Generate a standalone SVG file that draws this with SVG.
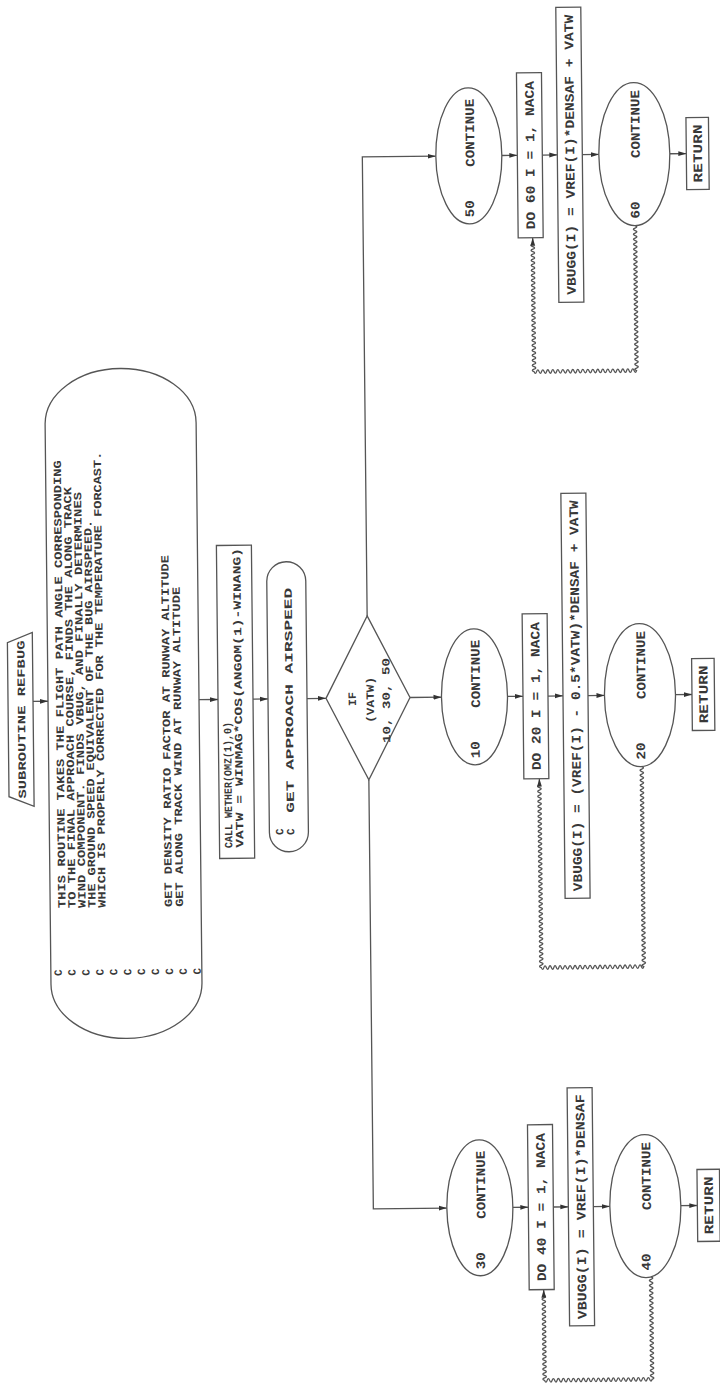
<svg xmlns="http://www.w3.org/2000/svg" width="720" height="1397" viewBox="0 0 720 1397">
<style>
.s{fill:none;stroke:#555;stroke-width:1.3}
.n{fill:#fff;stroke:#555;stroke-width:1.3}
.t{font-family:"Liberation Mono",monospace;font-size:11px;font-weight:bold;fill:#383838}
.c{font-family:"Liberation Mono",monospace;font-size:13px;font-weight:bold;fill:#383838}
.m{text-anchor:middle}
</style>
<defs>
<marker id="ah" viewBox="0 0 8 6" refX="8" refY="3" markerWidth="8" markerHeight="6" markerUnits="userSpaceOnUse" orient="auto"><path d="M0,0.6 L8,3 L0,5.4 Z" fill="#333"/></marker>
</defs>
<rect width="720" height="1397" fill="#fff"/>
<g transform="rotate(-0.6 360 698)">
<g id="connectors" class="s">
<path d="M33,698 H48" marker-end="url(#ah)"/>
<path d="M199,698 H218" marker-end="url(#ah)"/>
<path d="M253,698 H268" marker-end="url(#ah)"/>
<path d="M307,698 H326" marker-end="url(#ah)"/>
<path d="M410,698 H441.5" marker-end="url(#ah)"/>
<path d="M368,616 V157 H441.5" marker-end="url(#ah)"/>
<path d="M368,780 V1209 H441.5" marker-end="url(#ah)"/>
<path d="M507.5,157 H523" marker-end="url(#ah)"/>
<path d="M548,157 H563" marker-end="url(#ah)"/>
<path d="M588,157 H604.5" marker-end="url(#ah)"/>
<path d="M675.5,157 H692" marker-end="url(#ah)"/>
<path d="M507.5,698 H523" marker-end="url(#ah)"/>
<path d="M548,698 H563" marker-end="url(#ah)"/>
<path d="M588,698 H604.5" marker-end="url(#ah)"/>
<path d="M675.5,698 H692" marker-end="url(#ah)"/>
<path d="M507.5,1209 H523" marker-end="url(#ah)"/>
<path d="M548,1209 H563" marker-end="url(#ah)"/>
<path d="M588,1209 H604.5" marker-end="url(#ah)"/>
<path d="M675.5,1209 H692" marker-end="url(#ah)"/>
<path id="loop60" marker-end="url(#ah)" d="M640,228.5 q3.5,1.25 0,2.5 t0,2.5t0,2.5t0,2.5t0,2.5t0,2.5t0,2.5t0,2.5t0,2.5t0,2.5t0,2.5 t0,2.5t0,2.5t0,2.5t0,2.5t0,2.5t0,2.5t0,2.5t0,2.5t0,2.5t0,2.5 t0,2.5t0,2.5t0,2.5t0,2.5t0,2.5t0,2.5t0,2.5t0,2.5t0,2.5t0,2.5 t0,2.5t0,2.5t0,2.5t0,2.5t0,2.5t0,2.5t0,2.5t0,2.5t0,2.5t0,2.5 t0,2.5t0,2.5t0,2.5t0,2.5t0,2.5t0,2.5t0,2.5t0,2.5t0,2.5t0,2.5 t0,2.5t0,2.5t0,2.5t0,2.5t0,2.5t0,2.5t0,2.5 q-1.25,3.5 -2.5,0 t-2.5,0t-2.5,0t-2.5,0t-2.5,0t-2.5,0t-2.5,0t-2.5,0t-2.5,0t-2.5,0t-2.5,0 t-2.5,0t-2.5,0t-2.5,0t-2.5,0t-2.5,0t-2.5,0t-2.5,0t-2.5,0t-2.5,0t-2.5,0 t-2.5,0t-2.5,0t-2.5,0t-2.5,0t-2.5,0t-2.5,0t-2.5,0t-2.5,0t-2.5,0t-2.5,0 t-2.5,0t-2.5,0t-2.5,0t-2.5,0t-2.5,0t-2.5,0t-2.5,0t-2.5,0t-2.5,0t-2.5,0 q-3.5,-1.25 0,-2.5 t0,-2.5t0,-2.5t0,-2.5t0,-2.5t0,-2.5t0,-2.5t0,-2.5t0,-2.5t0,-2.5t0,-2.5 t0,-2.5t0,-2.5t0,-2.5t0,-2.5t0,-2.5t0,-2.5t0,-2.5t0,-2.5t0,-2.5t0,-2.5 t0,-2.5t0,-2.5t0,-2.5t0,-2.5t0,-2.5t0,-2.5t0,-2.5t0,-2.5t0,-2.5t0,-2.5 t0,-2.5t0,-2.5t0,-2.5t0,-2.5t0,-2.5t0,-2.5t0,-2.5t0,-2.5t0,-2.5t0,-2.5 t0,-2.5t0,-2.5t0,-2.5t0,-2.5t0,-2.5t0,-2.5t0,-2.5t0,-2.5t0,-2.5t0,-2.5 L537.5,239.5"/>
<path id="loop20" marker-end="url(#ah)" d="M641,769.5 q3.5,1.25 0,2.5 t0,2.5t0,2.5t0,2.5t0,2.5t0,2.5t0,2.5t0,2.5t0,2.5t0,2.5t0,2.5 t0,2.5t0,2.5t0,2.5t0,2.5t0,2.5t0,2.5t0,2.5t0,2.5t0,2.5t0,2.5 t0,2.5t0,2.5t0,2.5t0,2.5t0,2.5t0,2.5t0,2.5t0,2.5t0,2.5t0,2.5 t0,2.5t0,2.5t0,2.5t0,2.5t0,2.5t0,2.5t0,2.5t0,2.5t0,2.5t0,2.5 t0,2.5t0,2.5t0,2.5t0,2.5t0,2.5t0,2.5t0,2.5t0,2.5t0,2.5t0,2.5 t0,2.5t0,2.5t0,2.5t0,2.5t0,2.5t0,2.5t0,2.5t0,2.5t0,2.5t0,2.5 t0,2.5t0,2.5t0,2.5t0,2.5t0,2.5t0,2.5t0,2.5t0,2.5t0,2.5t0,2.5 t0,2.5t0,2.5t0,2.5t0,2.5t0,2.5t0,2.5t0,2.5t0,2.5t0,2.5 q-1.25,3.5 -2.5,0 t-2.5,0t-2.5,0t-2.5,0t-2.5,0t-2.5,0t-2.5,0t-2.5,0t-2.5,0t-2.5,0t-2.5,0 t-2.5,0t-2.5,0t-2.5,0t-2.5,0t-2.5,0t-2.5,0t-2.5,0t-2.5,0t-2.5,0t-2.5,0 t-2.5,0t-2.5,0t-2.5,0t-2.5,0t-2.5,0t-2.5,0t-2.5,0t-2.5,0t-2.5,0t-2.5,0 t-2.5,0t-2.5,0t-2.5,0t-2.5,0t-2.5,0t-2.5,0t-2.5,0t-2.5,0t-2.5,0t-2.5,0 q-3.5,-1.25 0,-2.5 t0,-2.5t0,-2.5t0,-2.5t0,-2.5t0,-2.5t0,-2.5t0,-2.5t0,-2.5t0,-2.5t0,-2.5 t0,-2.5t0,-2.5t0,-2.5t0,-2.5t0,-2.5t0,-2.5t0,-2.5t0,-2.5t0,-2.5t0,-2.5 t0,-2.5t0,-2.5t0,-2.5t0,-2.5t0,-2.5t0,-2.5t0,-2.5t0,-2.5t0,-2.5t0,-2.5 t0,-2.5t0,-2.5t0,-2.5t0,-2.5t0,-2.5t0,-2.5t0,-2.5t0,-2.5t0,-2.5t0,-2.5 t0,-2.5t0,-2.5t0,-2.5t0,-2.5t0,-2.5t0,-2.5t0,-2.5t0,-2.5t0,-2.5t0,-2.5 t0,-2.5t0,-2.5t0,-2.5t0,-2.5t0,-2.5t0,-2.5t0,-2.5t0,-2.5t0,-2.5t0,-2.5 t0,-2.5t0,-2.5t0,-2.5t0,-2.5t0,-2.5t0,-2.5t0,-2.5t0,-2.5t0,-2.5t0,-2.5 t0,-2.5t0,-2.5 L538.5,780.5"/>
<path id="loop40" marker-end="url(#ah)" d="M645,1279.8 q3.5,1.25 0,2.5 t0,2.5t0,2.5t0,2.5t0,2.5t0,2.5t0,2.5t0,2.5t0,2.5t0,2.5t0,2.5 t0,2.5t0,2.5t0,2.5t0,2.5t0,2.5t0,2.5t0,2.5t0,2.5t0,2.5t0,2.5 t0,2.5t0,2.5t0,2.5t0,2.5t0,2.5t0,2.5t0,2.5t0,2.5t0,2.5t0,2.5 t0,2.5t0,2.5t0,2.5t0,2.5t0,2.5t0,2.5t0,2.5t0,2.5t0,2.5t0,2.5 q-1.25,3.5 -2.5,0 t-2.5,0t-2.5,0t-2.5,0t-2.5,0t-2.5,0t-2.5,0t-2.5,0t-2.5,0t-2.5,0t-2.5,0 t-2.5,0t-2.5,0t-2.5,0t-2.5,0t-2.5,0t-2.5,0t-2.5,0t-2.5,0t-2.5,0t-2.5,0 t-2.5,0t-2.5,0t-2.5,0t-2.5,0t-2.5,0t-2.5,0t-2.5,0t-2.5,0t-2.5,0t-2.5,0 t-2.5,0t-2.5,0t-2.5,0t-2.5,0t-2.5,0t-2.5,0t-2.5,0t-2.5,0t-2.5,0t-2.5,0 t-2.5,0t-2.5,0 q-3.5,-1.25 0,-2.5 t0,-2.5t0,-2.5t0,-2.5t0,-2.5t0,-2.5t0,-2.5t0,-2.5t0,-2.5t0,-2.5t0,-2.5 t0,-2.5t0,-2.5t0,-2.5t0,-2.5t0,-2.5t0,-2.5t0,-2.5t0,-2.5t0,-2.5t0,-2.5 t0,-2.5t0,-2.5t0,-2.5t0,-2.5t0,-2.5t0,-2.5t0,-2.5t0,-2.5t0,-2.5t0,-2.5 t0,-2.5t0,-2.5t0,-2.5 L537.5,1291.5"/>
</g>
<g id="start">
<path class="n" d="M33,629 V803 L8,793 V639 Z"/>
<text class="t m" transform="translate(25,716) rotate(-90)" textLength="158" lengthAdjust="spacingAndGlyphs">SUBROUTINE REFBUG</text>
</g>
<g id="comment">
<path class="n" d="M48,421 A75.5,55 0 0 1 199,421 V981 A75.5,55 0 0 1 48,981 Z"/>
<text class="t" transform="translate(63.3,905) rotate(-90)" textLength="448" lengthAdjust="spacingAndGlyphs">THIS ROUTINE TAKES THE FLIGHT PATH ANGLE CORRESPONDING</text>
<text class="t" transform="translate(73.3,905) rotate(-90)" textLength="421" lengthAdjust="spacingAndGlyphs">TO THE FINAL APPROACH COURSE, FINDS THE ALONG TRACK</text>
<text class="t" transform="translate(83.3,905) rotate(-90)" textLength="416" lengthAdjust="spacingAndGlyphs">WIND COMPONENT. FINDS VBUG, AND FINALLY DETERMINES</text>
<text class="t" transform="translate(93.3,905) rotate(-90)" textLength="388" lengthAdjust="spacingAndGlyphs">THE GROUND SPEED EQUIVALENT OF THE BUG AIRSPEED.</text>
<text class="t" transform="translate(103.3,905) rotate(-90)" textLength="456" lengthAdjust="spacingAndGlyphs">WHICH IS PROPERLY CORRECTED FOR THE TEMPERATURE FORCAST.</text>
<text class="t" transform="translate(169.8,905) rotate(-90)" textLength="352" lengthAdjust="spacingAndGlyphs">GET DENSITY RATIO FACTOR AT RUNWAY ALTITUDE</text>
<text class="t" transform="translate(180.8,905) rotate(-90)" textLength="320" lengthAdjust="spacingAndGlyphs">GET ALONG TRACK WIND AT RUNWAY ALTITUDE</text>
<text class="t m" transform="translate(58.8,969.5) rotate(-90)">C</text>
<text class="t m" transform="translate(72.7,969.5) rotate(-90)">C</text>
<text class="t m" transform="translate(86.6,969.5) rotate(-90)">C</text>
<text class="t m" transform="translate(100.5,969.5) rotate(-90)">C</text>
<text class="t m" transform="translate(114.4,969.5) rotate(-90)">C</text>
<text class="t m" transform="translate(128.3,969.5) rotate(-90)">C</text>
<text class="t m" transform="translate(142.2,969.5) rotate(-90)">C</text>
<text class="t m" transform="translate(156.1,969.5) rotate(-90)">C</text>
<text class="t m" transform="translate(170,969.5) rotate(-90)">C</text>
<text class="t m" transform="translate(183.9,969.5) rotate(-90)">C</text>
<text class="t m" transform="translate(197.8,969.5) rotate(-90)">C</text>
</g>
<g id="call">
<rect class="n" x="218" y="544" width="35" height="313"/>
<text class="t" transform="translate(230.8,846.6) rotate(-90)" textLength="126" lengthAdjust="spacingAndGlyphs">CALL WETHER(OMZ(1),0)</text>
<text class="t" transform="translate(241.8,846.6) rotate(-90)" textLength="300" lengthAdjust="spacingAndGlyphs">VATW = WINMAG*COS(ANGOM(1)-WINANG)</text>
</g>
<g id="airspeed">
<rect class="n" x="268" y="561" width="39" height="290" rx="19.5"/>
<text class="t m" transform="translate(281.8,831) rotate(-90)">C</text>
<text class="t m" transform="translate(292.8,831) rotate(-90)">C</text>
<text class="t" transform="translate(292.8,812) rotate(-90)" textLength="225" lengthAdjust="spacingAndGlyphs">GET APPROACH AIRSPEED</text>
</g>
<g id="decision">
<path class="n" d="M368,616 L410,698 L368,780 L326,698 Z"/>
<text class="t m" transform="translate(355.8,699) rotate(-90)" textLength="14" lengthAdjust="spacingAndGlyphs">IF</text>
<text class="t m" transform="translate(373.8,700) rotate(-90)" textLength="46" lengthAdjust="spacingAndGlyphs">(VATW)</text>
<text class="t m" transform="translate(389.8,700.8) rotate(-90)" textLength="85" lengthAdjust="spacingAndGlyphs">10, 30, 50</text>
</g>
<g id="c50">
<ellipse class="n" cx="474.5" cy="157" rx="33" ry="68"/>
<text class="c m" transform="translate(480,134) rotate(-90)" textLength="68" lengthAdjust="spacingAndGlyphs">CONTINUE</text>
<text class="c m" transform="translate(479,210) rotate(-90)" textLength="17" lengthAdjust="spacingAndGlyphs">50</text>
</g>
<g id="do60">
<rect class="n" x="523" y="74.5" width="25" height="165"/>
<text class="c m" transform="translate(540,157) rotate(-90)" textLength="148" lengthAdjust="spacingAndGlyphs">DO 60 I = 1, NACA</text>
</g>
<g id="set60">
<rect class="n" x="563" y="9.5" width="25" height="295"/>
<text class="c m" transform="translate(580,157) rotate(-90)" textLength="280" lengthAdjust="spacingAndGlyphs">VBUGG(I) = VREF(I)*DENSAF + VATW</text>
</g>
<g id="c60">
<ellipse class="n" cx="640" cy="157" rx="35.5" ry="71.5"/>
<text class="c m" transform="translate(645.5,127) rotate(-90)" textLength="68" lengthAdjust="spacingAndGlyphs">CONTINUE</text>
<text class="c m" transform="translate(644.5,213) rotate(-90)" textLength="17" lengthAdjust="spacingAndGlyphs">60</text>
</g>
<g id="ret60">
<rect class="n" x="692" y="121" width="22.5" height="72"/>
<text class="c m" transform="translate(707.7,157) rotate(-90)" textLength="58" lengthAdjust="spacingAndGlyphs">RETURN</text>
</g>
<g id="c10">
<ellipse class="n" cx="474.5" cy="698" rx="33" ry="68"/>
<text class="c m" transform="translate(480,675) rotate(-90)" textLength="68" lengthAdjust="spacingAndGlyphs">CONTINUE</text>
<text class="c m" transform="translate(479,751) rotate(-90)" textLength="17" lengthAdjust="spacingAndGlyphs">10</text>
</g>
<g id="do20">
<rect class="n" x="523" y="615.5" width="25" height="165"/>
<text class="c m" transform="translate(540,698) rotate(-90)" textLength="148" lengthAdjust="spacingAndGlyphs">DO 20 I = 1, NACA</text>
</g>
<g id="set20">
<rect class="n" x="563" y="495.5" width="25" height="405"/>
<text class="c m" transform="translate(580,698) rotate(-90)" textLength="391" lengthAdjust="spacingAndGlyphs">VBUGG(I) = (VREF(I) - 0.5*VATW)*DENSAF + VATW</text>
</g>
<g id="c20">
<ellipse class="n" cx="640" cy="698" rx="35.5" ry="71.5"/>
<text class="c m" transform="translate(645.5,668) rotate(-90)" textLength="68" lengthAdjust="spacingAndGlyphs">CONTINUE</text>
<text class="c m" transform="translate(644.5,754) rotate(-90)" textLength="17" lengthAdjust="spacingAndGlyphs">20</text>
</g>
<g id="ret20">
<rect class="n" x="692" y="662" width="22.5" height="72"/>
<text class="c m" transform="translate(707.7,698) rotate(-90)" textLength="58" lengthAdjust="spacingAndGlyphs">RETURN</text>
</g>
<g id="c30">
<ellipse class="n" cx="474.5" cy="1209" rx="33" ry="68"/>
<text class="c m" transform="translate(480,1186) rotate(-90)" textLength="68" lengthAdjust="spacingAndGlyphs">CONTINUE</text>
<text class="c m" transform="translate(479,1262) rotate(-90)" textLength="17" lengthAdjust="spacingAndGlyphs">30</text>
</g>
<g id="do40">
<rect class="n" x="523" y="1126.5" width="25" height="165"/>
<text class="c m" transform="translate(540,1209) rotate(-90)" textLength="148" lengthAdjust="spacingAndGlyphs">DO 40 I = 1, NACA</text>
</g>
<g id="set40">
<rect class="n" x="563" y="1090" width="25" height="238"/>
<text class="c m" transform="translate(580,1209) rotate(-90)" textLength="225" lengthAdjust="spacingAndGlyphs">VBUGG(I) = VREF(I)*DENSAF</text>
</g>
<g id="c40">
<ellipse class="n" cx="640" cy="1209" rx="35.5" ry="71.5"/>
<text class="c m" transform="translate(645.5,1179) rotate(-90)" textLength="68" lengthAdjust="spacingAndGlyphs">CONTINUE</text>
<text class="c m" transform="translate(644.5,1265) rotate(-90)" textLength="17" lengthAdjust="spacingAndGlyphs">40</text>
</g>
<g id="ret40">
<rect class="n" x="692" y="1173" width="22.5" height="72"/>
<text class="c m" transform="translate(707.7,1209) rotate(-90)" textLength="58" lengthAdjust="spacingAndGlyphs">RETURN</text>
</g>
</g>
</svg>
